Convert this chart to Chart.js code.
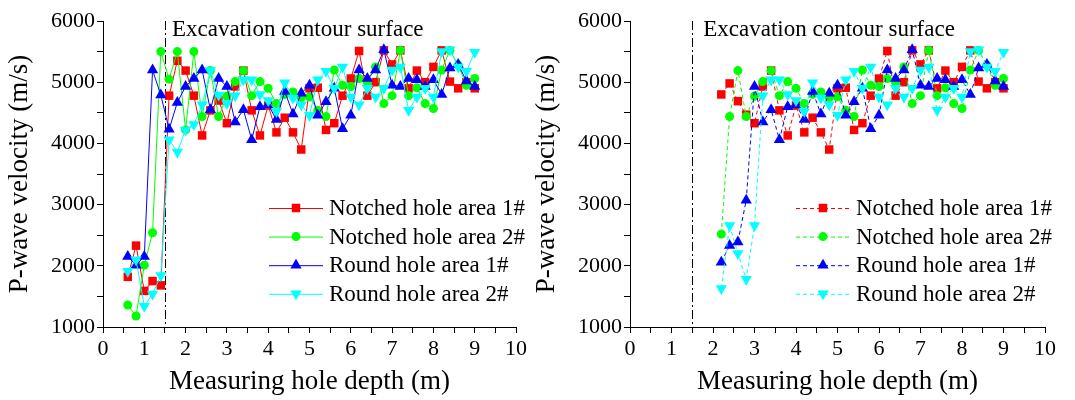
<!DOCTYPE html>
<html>
<head>
<meta charset="utf-8">
<script src="https://cdn.jsdelivr.net/npm/chart.js@4.4.1/dist/chart.umd.min.js"></script>
<style>
  body { margin: 0; background: #fff; width: 1075px; height: 400px; position: relative; overflow: hidden; }
  .panel { position: absolute; top: 0; height: 400px; }
  #left { left: 0; width: 530px; }
  #right { left: 527px; width: 548px; }
</style>
</head>
<body>
<div class="panel" id="left"><canvas id="chartLeft"></canvas></div>
<div class="panel" id="right"><canvas id="chartRight"></canvas></div>
<script>
// Data
const seriesNames = ['Notched hole area 1#', 'Notched hole area 2#', 'Round hole area 1#', 'Round hole area 2#'];

const depthLeft = [0.6, 0.8, 1.0, 1.2, 1.4, 1.6, 1.8, 2.0, 2.2, 2.4, 2.6, 2.8, 3.0, 3.2, 3.4, 3.6, 3.8, 4.0, 4.2, 4.4, 4.6, 4.8,
  5.0, 5.2, 5.4, 5.6, 5.8, 6.0, 6.2, 6.4, 6.6, 6.8, 7.0, 7.2, 7.4, 7.6, 7.8, 8.0, 8.2, 8.4, 8.6, 8.8, 9.0];
const notched1Left = [1820, 2330, 1590, 1750, 1680, 4780, 5350, 5190, 4780, 4130, 4540, 4700, 4330, 4930, 5190, 4540, 4130, 4620, 4180, 4420, 4180, 3900,
  4900, 4910, 4220, 4330, 4780, 5060, 5510, 4780, 5000, 5520, 5290, 5520, 4900, 5190, 5000, 5250, 5520, 5010, 4900, 5000, 4900];
const notched2Left = [1360, 1180, 2010, 2540, 5500, 5050, 5500, 4220, 5500, 4440, 5190, 4440, 4770, 5010, 5190, 4780, 5010, 4900, 4650, 4800, 4840, 4750,
  4760, 4540, 4440, 5200, 4950, 4930, 5060, 5000, 5250, 4650, 4780, 5520, 4780, 4910, 4650, 4570, 5200, 5520, 5280, 4950, 5060];
const round1Left = [2150, 2010, 2150, 5200, 4790, 4230, 4670, 4930, 5060, 5200, 4550, 5060, 4930, 4350, 4550, 4060, 4600, 4630, 4390, 4850, 4480, 4820,
  4950, 4460, 4680, 4900, 4240, 4460, 5200, 5060, 5200, 5530, 4950, 4930, 5060, 5040, 4930, 5040, 4800, 5230, 5290, 5020, 4930];
const round2Left = [1910, 2100, 1340, 1540, 1840, 4060, 3860, 4220, 4310, 4630, 5190, 4790, 4650, 4780, 5040, 5040, 4800, 4700, 4520, 4990, 4740, 4630,
  4460, 5040, 5180, 4900, 5250, 4760, 4630, 4900, 4760, 4900, 5200, 5250, 4540, 4760, 4900, 4760, 5500, 5530, 5250, 5180, 5490];

const depthRight = [2.2, 2.4, 2.6, 2.8, 3.0, 3.2, 3.4, 3.6, 3.8, 4.0, 4.2, 4.4, 4.6, 4.8,
  5.0, 5.2, 5.4, 5.6, 5.8, 6.0, 6.2, 6.4, 6.6, 6.8, 7.0, 7.2, 7.4, 7.6, 7.8, 8.0, 8.2, 8.4, 8.6, 8.8, 9.0];
const notched1Right = [4800, 4980, 4690, 4470, 4330, 4930, 5190, 4540, 4130, 4620, 4180, 4420, 4180, 3900,
  4900, 4910, 4220, 4330, 4780, 5060, 5510, 4780, 5000, 5520, 5290, 5520, 4900, 5190, 5000, 5250, 5520, 5010, 4900, 5000, 4900];
const notched2Right = [2520, 4440, 5190, 4440, 4770, 5010, 5190, 4780, 5010, 4900, 4650, 4800, 4840, 4750,
  4760, 4540, 4440, 5200, 4950, 4930, 5060, 5000, 5250, 4650, 4780, 5520, 4780, 4910, 4650, 4570, 5200, 5520, 5280, 4950, 5060];
const round1Right = [2060, 2330, 2390, 3070, 4930, 4350, 4550, 4060, 4600, 4630, 4390, 4850, 4480, 4820,
  4950, 4460, 4680, 4900, 4240, 4460, 5200, 5060, 5200, 5530, 4950, 4930, 5060, 5040, 4930, 5040, 4800, 5230, 5290, 5020, 4930];
const round2Right = [1630, 2660, 2200, 1780, 2660, 4780, 5040, 5040, 4800, 4700, 4520, 4990, 4740, 4630,
  4460, 5040, 5180, 4900, 5250, 4760, 4630, 4900, 4760, 4900, 5200, 5250, 4540, 4760, 4900, 4760, 5500, 5530, 5250, 5180, 5490];

const contourDepth = 1.5;
const contourLabel = 'Excavation contour surface';

// Styles
const serif = "'Liberation Serif', 'Times New Roman', serif";
Chart.defaults.font.family = serif;
Chart.defaults.color = '#000';

const styles = [
  { color: '#ff0000', pointStyle: 'rect', radius: 6, rotation: 0 },
  { color: '#00ff00', pointStyle: 'circle', radius: 4.5, rotation: 0 },
  { color: '#0000ff', pointStyle: 'triangle', radius: 6.5, rotation: 0 },
  { color: '#00ffff', pointStyle: 'triangle', radius: 6.5, rotation: 180 }
];

function toPoints(xs, ys) {
  return xs.map((x, i) => ({ x: x, y: ys[i] }));
}

function makeDatasets(xs, seriesList, dash) {
  return seriesList.map((ys, i) => ({
    label: seriesNames[i],
    data: toPoints(xs, ys),
    borderColor: styles[i].color,
    backgroundColor: styles[i].color,
    borderWidth: 1,
    borderDash: dash,
    pointStyle: styles[i].pointStyle,
    pointRadius: styles[i].radius,
    pointRotation: styles[i].rotation,
    pointBorderWidth: 0,
    showLine: true,
    tension: 0,
    order: 4 - i
  }));
}

function drawMarker(ctx, st, x, y) {
  ctx.save();
  ctx.fillStyle = st.color;
  ctx.beginPath();
  if (st.pointStyle === 'rect') {
    const s = st.radius * Math.SQRT1_2;
    ctx.rect(x - s, y - s, 2 * s, 2 * s);
  } else if (st.pointStyle === 'circle') {
    ctx.arc(x, y, st.radius, 0, Math.PI * 2);
  } else {
    const dir = st.rotation === 180 ? -1 : 1;
    const r = st.radius;
    ctx.moveTo(x, y - dir * r);
    ctx.lineTo(x + r * 0.866, y + dir * r * 0.5);
    ctx.lineTo(x - r * 0.866, y + dir * r * 0.5);
    ctx.closePath();
  }
  ctx.fill();
  ctx.restore();
}

// contour line, its label and the legend
const extrasPlugin = {
  id: 'extras',
  beforeDatasetsDraw(chart) {
    const { ctx, chartArea } = chart;
    const x = chart.scales.x.getPixelForValue(contourDepth);
    ctx.save();
    ctx.strokeStyle = '#000';
    ctx.lineWidth = 1;
    ctx.setLineDash([9, 3, 2, 3]);
    ctx.beginPath();
    ctx.moveTo(Math.round(x) + 0.5, chartArea.top);
    ctx.lineTo(Math.round(x) + 0.5, chartArea.bottom);
    ctx.stroke();
    ctx.restore();
  },
  afterDraw(chart, args, opts) {
    const { ctx, chartArea } = chart;
    const x = chart.scales.x.getPixelForValue(contourDepth);
    ctx.save();
    ctx.fillStyle = '#000';
    ctx.font = '23px ' + serif;
    ctx.textBaseline = 'alphabetic';
    ctx.fillText(contourLabel, x + opts.labelOffset, 36);

    const dash = opts.dash;
    chart.data.datasets.forEach((ds, i) => {
      const y = 208 + i * 28.6;
      const lx = chartArea.left + 166;
      ctx.strokeStyle = styles[i].color;
      ctx.lineWidth = 1;
      ctx.setLineDash(dash);
      ctx.beginPath();
      ctx.moveTo(lx, y + 0.5);
      ctx.lineTo(lx + 54, y + 0.5);
      ctx.stroke();
      ctx.setLineDash([]);
      drawMarker(ctx, styles[i], lx + 27, y);
      ctx.fillStyle = '#000';
      ctx.font = '23px ' + serif;
      ctx.textBaseline = 'middle';
      ctx.fillText(ds.label, chartArea.left + 226, y + 1);
    });
    ctx.restore();
  }
};

function makeChart(canvasId, xs, seriesList, dash, rightPad, labelOffset) {
  return new Chart(document.getElementById(canvasId), {
    type: 'scatter',
    data: { datasets: makeDatasets(xs, seriesList, dash) },
    options: {
      responsive: true,
      maintainAspectRatio: false,
      animation: false,
      layout: { padding: { top: 21, right: rightPad, left: 0, bottom: 0 } },
      plugins: {
        legend: { display: false },
        tooltip: { enabled: false },
        extras: { dash: dash, labelOffset: labelOffset }
      },
      scales: {
        x: {
          type: 'linear',
          min: 0,
          max: 10,
          afterFit: (scale) => { scale.height = 73; },
          ticks: {
            stepSize: 0.5,
            autoSkip: false,
            maxRotation: 0,
            padding: 3,
            font: { size: 22 },
            callback: (v) => (Number.isInteger(v) ? v : '')
          },
          grid: { drawOnChartArea: false, drawTicks: true, tickLength: 6, color: '#000' },
          border: { display: true, color: '#000', width: 1 },
          title: {
            display: true,
            text: 'Measuring hole depth (m)',
            font: { size: 27 },
            padding: { top: 0, bottom: 2 }
          }
        },
        y: {
          min: 1000,
          max: 6000,
          afterFit: (scale) => { scale.width = 103; },
          ticks: {
            stepSize: 500,
            autoSkip: false,
            padding: 2,
            font: { size: 22 },
            callback: (v) => (v % 1000 === 0 ? v : '')
          },
          grid: { drawOnChartArea: false, drawTicks: true, tickLength: 6, color: '#000' },
          border: { display: true, color: '#000', width: 1 },
          title: {
            display: true,
            text: 'P-wave velocity (m/s)',
            font: { size: 27 },
            padding: { top: 4, bottom: 0 }
          }
        }
      }
    },
    plugins: [extrasPlugin]
  });
}

makeChart('chartLeft', depthLeft, [notched1Left, notched2Left, round1Left, round2Left], [], 13, 7);
makeChart('chartRight', depthRight, [notched1Right, notched2Right, round1Right, round2Right], [4, 3], 30, 11);
</script>
</body>
</html>
